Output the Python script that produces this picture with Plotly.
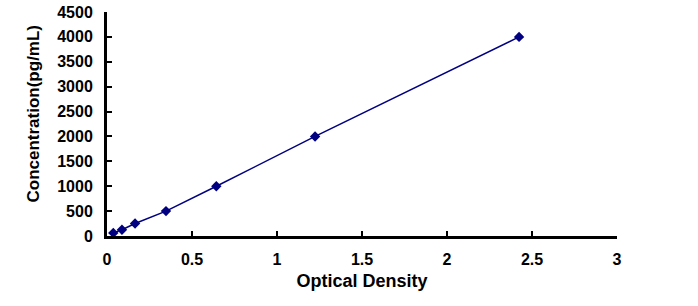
import plotly.graph_objects as go

optical_density = [0.037, 0.088, 0.165, 0.347, 0.643, 1.224, 2.424]
concentration = [62.5, 125, 250, 500, 1000, 2000, 4000]

x_ticks = [0, 0.5, 1, 1.5, 2, 2.5, 3]
x_tick_labels = ["0", "0.5", "1", "1.5", "2", "2.5", "3"]
y_ticks = [0, 500, 1000, 1500, 2000, 2500, 3000, 3500, 4000, 4500]
y_tick_labels = [str(v) for v in y_ticks]

navy = "#000080"
font_family = "Liberation Sans, Arial, sans-serif"

fig = go.Figure()
fig.add_trace(go.Scatter(
    x=optical_density, y=concentration, mode="lines+markers",
    line=dict(color=navy, width=1.5),
    marker=dict(symbol="diamond", size=8, color=navy),
    showlegend=False,
))

fig.update_layout(
    width=698, height=306,
    margin=dict(l=107, r=81, t=12, b=70, autoexpand=False),
    paper_bgcolor="white", plot_bgcolor="white",
    font=dict(family=font_family, color="black"),
)
fig.update_xaxes(
    range=[0, 3], tickvals=x_ticks, ticktext=["<b>%s</b>" % t for t in x_tick_labels],
    showgrid=False, zeroline=False, showline=True, linecolor="black", linewidth=3,
    ticks="inside", ticklen=5, tickwidth=2, tickcolor="black",
    tickfont=dict(size=16, family=font_family),
    ticklabelstandoff=7, automargin=False,
    title=dict(text="<b>Optical Density</b>", font=dict(size=18), standoff=8),
)
fig.update_yaxes(
    range=[0, 4500], tickvals=y_ticks, ticktext=["<b>%s</b>" % t for t in y_tick_labels],
    showgrid=False, zeroline=False, showline=True, linecolor="black", linewidth=3,
    ticks="inside", ticklen=5, tickwidth=2, tickcolor="black",
    tickfont=dict(size=16, family=font_family),
    ticklabelstandoff=8, automargin=False,
)
fig.add_annotation(
    text="<b>Concentration(pg/mL)</b>", textangle=-90,
    xref="paper", yref="paper", x=-0.145, y=0.547,
    xanchor="center", yanchor="middle", showarrow=False,
    font=dict(size=17, family=font_family, color="black"),
)

fig.write_html("out.html")
